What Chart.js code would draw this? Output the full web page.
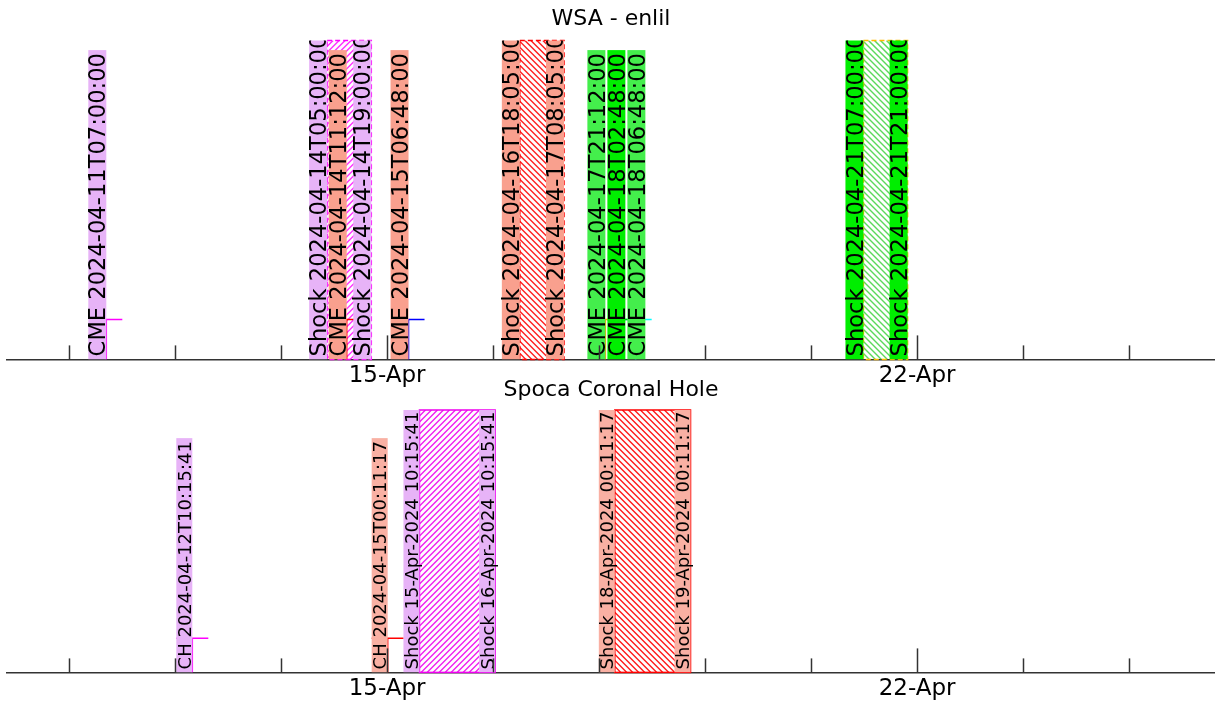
<!DOCTYPE html>
<html>
<head>
<meta charset="utf-8">
<script src="https://cdn.jsdelivr.net/npm/chart.js@4.4.1/dist/chart.umd.min.js"></script>
<style>
  body { margin: 0; background: #fff; width: 1215px; height: 706px; overflow: hidden; position: relative; }
  canvas { position: absolute; left: 0; }
  #wsaChart { top: 0; }
  #spocaChart { top: 373px; }
</style>
</head>
<body>
<canvas id="wsaChart" width="1215" height="393"></canvas>
<canvas id="spocaChart" width="1215" height="333"></canvas>
<script>
// x axis ticks, in days after 15-Apr-2024 00:00 UTC
var tickDays = [-4.2, -2.8, -1.4, 0, 1.4, 2.8, 4.2, 5.6, 7, 8.4, 9.8];
var majorDays = [0, 7];
var majorLabels = ['15-Apr', '22-Apr'];
var xMin = -5.02, xMax = 10.935;

// WSA - enlil events
var wsaLabels = ['CME 2024-04-11T07:00:00', 'Shock 2024-04-14T05:00:00', 'CME 2024-04-14T11:12:00',
  'Shock 2024-04-14T19:00:00', 'CME 2024-04-15T06:48:00', 'Shock 2024-04-16T18:05:00',
  'Shock 2024-04-17T08:05:00', 'CME 2024-04-17T21:12:00', 'CME 2024-04-18T02:48:00',
  'CME 2024-04-18T06:48:00', 'Shock 2024-04-21T07:00:00', 'Shock 2024-04-21T21:00:00'];
var wsaTimes = ['2024-04-11T07:00:00', '2024-04-14T05:00:00', '2024-04-14T11:12:00', '2024-04-14T19:00:00',
  '2024-04-15T06:48:00', '2024-04-16T18:05:00', '2024-04-17T08:05:00', '2024-04-17T21:12:00',
  '2024-04-18T02:48:00', '2024-04-18T06:48:00', '2024-04-21T07:00:00', '2024-04-21T21:00:00'];
var wsaLevels = [0.125, null, 0.125, null, 0.125, null, null, 0.125, 0.125, 0.125, null, null];
var wsaSpans = [['2024-04-14T05:00:00', '2024-04-14T19:00:00'],
  ['2024-04-16T18:05:00', '2024-04-17T08:05:00'],
  ['2024-04-21T07:00:00', '2024-04-21T21:00:00']];

// Spoca Coronal Hole events
var spocaLabels = ['CH 2024-04-12T10:15:41', 'CH 2024-04-15T00:11:17', 'Shock 15-Apr-2024 10:15:41',
  'Shock 16-Apr-2024 10:15:41', 'Shock 18-Apr-2024 00:11:17', 'Shock 19-Apr-2024 00:11:17'];
var spocaTimes = ['2024-04-12T10:15:41', '2024-04-15T00:11:17', '2024-04-15T10:15:41',
  '2024-04-16T10:15:41', '2024-04-18T00:11:17', '2024-04-19T00:11:17'];
var spocaLevels = [0.13, 0.13, null, null, null, null];
var spocaSpans = [['2024-04-15T10:15:41', '2024-04-16T10:15:41'],
  ['2024-04-18T00:11:17', '2024-04-19T00:11:17']];

// styles
var wsaBoxColors = ['#e7b3f7', '#e7b3f7', '#f9a08e', '#e7b3f7', '#f9a08e', '#f9a08e',
  '#f9a08e', '#44ee4c', '#00ee00', '#44ee4c', '#00ee00', '#00ee00'];
var wsaStemColors = ['#ff00ff', null, '#ff0000', null, '#0000ff', null, null, '#ffa500', '#00b000', '#00ffff', null, null];
var wsaSpanStyles = [
  { hatch: '#ff33ff', edge: '#ff00ff', dir: 1, dash: [5, 3] },
  { hatch: '#ff2020', edge: '#ff0000', dir: -1, dash: [5, 3] },
  { hatch: '#5cd85c', edge: '#ffbb00', dir: -1, dash: [5, 3] }];
var spocaBoxColors = ['#e7b3f7', '#f9b0a3', '#e7b3f7', '#e7b3f7', '#f9b0a3', '#f9b0a3'];
var spocaStemColors = ['#ff00ff', '#ff0000', null, null, null, null];
var spocaSpanStyles = [
  { hatch: '#f020f0', edge: '#ee00ee', dir: 1, dash: [] },
  { hatch: '#ff1a1a', edge: '#ff0000', dir: -1, dash: [] }];

var FONT = '"DejaVu Sans", sans-serif';

function toDays(s) {
  return (Date.parse(s + 'Z') - Date.UTC(2024, 3, 15)) / 86400000;
}

// diagonal hatch lines inside a rectangle; dir 1 = '/', -1 = '\'
function hatchRect(ctx, x, y, w, h, color, dir) {
  var step = 6;
  ctx.save();
  ctx.beginPath();
  ctx.rect(x, y, w, h);
  ctx.clip();
  ctx.strokeStyle = color;
  ctx.lineWidth = 1.4;
  ctx.beginPath();
  for (var k = -h; k < w + h; k += step) {
    if (dir > 0) {
      ctx.moveTo(x + k, y + h);
      ctx.lineTo(x + k + h, y);
    } else {
      ctx.moveTo(x + k, y);
      ctx.lineTo(x + k + h, y + h);
    }
  }
  ctx.stroke();
  ctx.restore();
}

function makeMarks(cfg) {
  return {
    id: 'eventMarks',
    beforeDatasetsDraw: function (chart) {
      var ctx = chart.ctx, xs = chart.scales.x, a = chart.chartArea;
      cfg.spans.forEach(function (sp, i) {
        var st = cfg.spanStyles[i];
        var x1 = xs.getPixelForValue(toDays(sp[0]));
        var x2 = xs.getPixelForValue(toDays(sp[1]));
        hatchRect(ctx, x1, a.top, x2 - x1, a.bottom - a.top, st.hatch, st.dir);
        ctx.save();
        ctx.strokeStyle = st.edge;
        ctx.lineWidth = 1.5;
        ctx.setLineDash(st.dash);
        ctx.strokeRect(x1, a.top, x2 - x1, a.bottom - a.top);
        ctx.restore();
      });
    },
    afterDatasetsDraw: function (chart) {
      var ctx = chart.ctx, xs = chart.scales.x, a = chart.chartArea;
      ctx.save();
      ctx.beginPath();
      ctx.rect(a.left, a.top, a.right - a.left, a.bottom - a.top);
      ctx.clip();
      ctx.font = cfg.fontSize + 'px ' + FONT;
      var prevRight = -1e9;
      cfg.labels.forEach(function (txt, i) {
        var x = xs.getPixelForValue(toDays(cfg.times[i]));
        var left = x - cfg.thick;
        if (left < prevRight + 1) left = prevRight + 2;
        prevRight = left + cfg.thick;
        var len = ctx.measureText(txt).width + 2 * cfg.pad;
        ctx.save();
        ctx.translate(left + cfg.thick / 2, a.bottom);
        ctx.rotate(-Math.PI / 2);
        ctx.fillStyle = cfg.boxColors[i];
        ctx.fillRect(0, -cfg.thick / 2, len, cfg.thick);
        ctx.fillStyle = '#000';
        ctx.textBaseline = 'alphabetic';
        ctx.fillText(txt, cfg.pad, cfg.fontSize * 0.36);
        ctx.restore();
      });
      ctx.restore();
    },
    afterDraw: function (chart) {
      var ctx = chart.ctx, xs = chart.scales.x, a = chart.chartArea;
      ctx.save();
      ctx.strokeStyle = '#333';
      ctx.lineWidth = 1.5;
      tickDays.forEach(function (d) {
        var x = Math.round(xs.getPixelForValue(d)) + 0.5;
        var h = majorDays.indexOf(d) >= 0 ? 24 : 14;
        ctx.beginPath();
        ctx.moveTo(x, a.bottom);
        ctx.lineTo(x, a.bottom - h);
        ctx.stroke();
      });
      ctx.restore();
    }
  };
}

function stemDatasets(times, levels, colors) {
  var sets = [];
  times.forEach(function (t, i) {
    if (levels[i] === null) return;
    var d = toDays(t);
    sets.push({
      data: [{ x: d, y: 0 }, { x: d, y: levels[i] }],
      showLine: true,
      borderColor: colors[i],
      borderWidth: 1.5,
      pointRadius: [0, 16],
      pointStyle: 'line',
      pointBorderColor: colors[i],
      pointBorderWidth: 1.5
    });
  });
  return sets;
}

function makeChart(id, title, titlePad, cfg, times, levels, stemColors) {
  return new Chart(id, {
    type: 'scatter',
    data: { datasets: stemDatasets(times, levels, stemColors) },
    options: {
      responsive: false,
      animation: false,
      layout: { autoPadding: false, padding: { left: 7, right: 0, top: 0, bottom: 0 } },
      plugins: {
        legend: { display: false },
        tooltip: { enabled: false },
        title: {
          display: true, text: title, color: '#000',
          font: { family: FONT, size: 22, weight: 'normal' },
          padding: titlePad
        }
      },
      scales: {
        x: {
          type: 'linear', min: xMin, max: xMax,
          afterBuildTicks: function (s) { s.ticks = tickDays.map(function (v) { return { value: v }; }); },
          ticks: {
            autoSkip: false, maxRotation: 0, padding: 3, color: '#000',
            font: { family: FONT, size: 23 },
            callback: function (v) {
              var k = majorDays.indexOf(v);
              return k >= 0 ? majorLabels[k] : '';
            }
          },
          grid: { display: true, drawOnChartArea: false, drawTicks: false },
          border: { display: true, color: '#333', width: 1.5 }
        },
        y: { display: false, min: 0, max: 1 }
      }
    },
    plugins: [makeMarks(cfg)]
  });
}

makeChart('wsaChart', 'WSA - enlil', { top: 6, bottom: 8 }, {
  labels: wsaLabels, times: wsaTimes, boxColors: wsaBoxColors,
  spans: wsaSpans, spanStyles: wsaSpanStyles, fontSize: 22.6, thick: 18, pad: 3
}, wsaTimes, wsaLevels, wsaStemColors);

makeChart('spocaChart', 'Spoca Coronal Hole', { top: 4, bottom: 6.6 }, {
  labels: spocaLabels, times: spocaTimes, boxColors: spocaBoxColors,
  spans: spocaSpans, spanStyles: spocaSpanStyles, fontSize: 18, thick: 16, pad: 3
}, spocaTimes, spocaLevels, spocaStemColors);
</script>
</body>
</html>
